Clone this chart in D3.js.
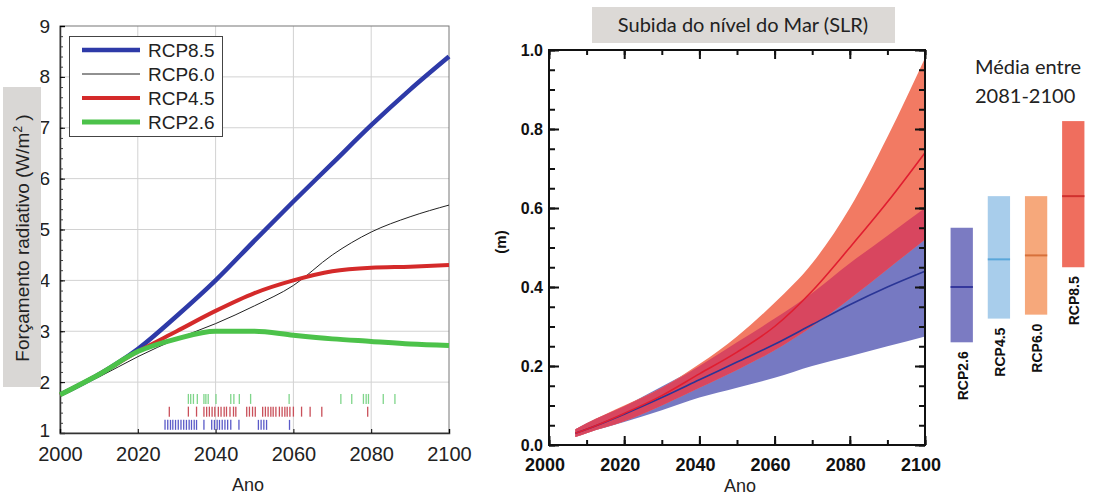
<!DOCTYPE html>
<html>
<head>
<meta charset="utf-8">
<script src="https://cdn.jsdelivr.net/npm/d3@7"></script>
<style>
  body { margin: 0; background: #fff; }
  svg { display: block; }
</style>
</head>
<body>
<div id="chart"></div>
<script>
// ---- data ----
// left panel: radiative forcing (W/m2)
const years = [2000, 2010, 2020, 2030, 2040, 2050, 2060, 2070, 2080, 2090, 2100];
const rcp85 = [1.75, 2.15, 2.65, 3.3, 4.0, 4.78, 5.55, 6.3, 7.05, 7.75, 8.4];
const rcp60 = [1.75, 2.1, 2.5, 2.85, 3.15, 3.5, 3.9, 4.5, 4.95, 5.25, 5.48];
const rcp45 = [1.75, 2.15, 2.6, 3.0, 3.4, 3.75, 4.0, 4.18, 4.25, 4.27, 4.3];
const rcp26 = [1.75, 2.15, 2.6, 2.85, 3.0, 3.0, 2.92, 2.85, 2.8, 2.75, 2.72];
const forcingTicks = [1, 2, 3, 4, 5, 6, 7, 8, 9];
const yearTicks = [2000, 2020, 2040, 2060, 2080, 2100];

// rug marks (years) under the curves
const rug26 = [2033, 2033.6, 2034.3, 2035.3, 2037, 2037.5, 2038.1, 2040.1, 2043.9, 2044.7, 2046.1,
  2049, 2058.9, 2072.2, 2075, 2078, 2078.7, 2079.3, 2083.1, 2086.1];
const rug45 = [2028.1, 2033, 2035.1, 2037, 2037.7, 2038.4, 2039.1, 2039.8, 2040.7, 2041.4, 2042.2,
  2042.8, 2043.7, 2044.6, 2045.2, 2048, 2048.7, 2049.5, 2050.2, 2052.1, 2052.8, 2053.5, 2054.2,
  2054.8, 2055.5, 2056.4, 2057.1, 2057.8, 2058.4, 2059.1, 2060, 2062.1, 2064.3, 2067.3, 2079.1];
const rug85 = [2027, 2027.7, 2028.4, 2029, 2029.7, 2030.4, 2031.1, 2031.8, 2032.5, 2033.2, 2033.8,
  2034.5, 2035.1, 2037, 2039, 2039.7, 2040.4, 2041, 2041.7, 2042.4, 2043.1, 2043.9, 2046,
  2051, 2051.7, 2052.4, 2053.1, 2059];

// right panel: sea level rise (m)
const slrYears = [2007, 2010, 2020, 2030, 2040, 2050, 2060, 2070, 2080, 2090, 2100];
const slr85Mid = [0.03, 0.04, 0.08, 0.125, 0.18, 0.235, 0.3, 0.39, 0.5, 0.615, 0.74];
const slr85Hi  = [0.04, 0.055, 0.1, 0.145, 0.205, 0.275, 0.36, 0.46, 0.6, 0.78, 0.98];
const slr85Lo  = [0.02, 0.03, 0.06, 0.1, 0.145, 0.19, 0.24, 0.3, 0.37, 0.445, 0.52];
const slr26Mid = [0.03, 0.04, 0.078, 0.12, 0.165, 0.21, 0.255, 0.305, 0.355, 0.4, 0.44];
const slr26Hi  = [0.04, 0.055, 0.098, 0.148, 0.2, 0.26, 0.32, 0.385, 0.46, 0.53, 0.6];
const slr26Lo  = [0.02, 0.03, 0.058, 0.088, 0.12, 0.145, 0.17, 0.2, 0.225, 0.25, 0.275];

// 2081-2100 means with ranges
const barNames = ['RCP2.6', 'RCP4.5', 'RCP6.0', 'RCP8.5'];
const barLow   = [0.26, 0.32, 0.33, 0.45];
const barMean  = [0.40, 0.47, 0.48, 0.63];
const barHigh  = [0.55, 0.63, 0.63, 0.82];

// ---- drawing ----
const width = 1097, height = 497;
const svg = d3.select('#chart').append('svg')
  .attr('width', width)
  .attr('height', height);

const arial = 'Liberation Sans, Arial, sans-serif';
const calibri = 'Lato, Open Sans, sans-serif';

// ===== left panel =====
const x1 = d3.scaleLinear().domain([2000, 2100]).range([60, 449]);
const y1 = d3.scaleLinear().domain([1, 9]).range([433, 26]);
const left = svg.append('g');

// grid
left.append('g').selectAll('line')
  .data([2020, 2040, 2060, 2080]).join('line')
  .attr('x1', d => x1(d)).attr('x2', d => x1(d))
  .attr('y1', y1(1)).attr('y2', y1(9))
  .attr('stroke', '#d2d2d2');
left.append('g').selectAll('line')
  .data(forcingTicks.slice(1, -1)).join('line')
  .attr('x1', x1(2000)).attr('x2', x1(2100))
  .attr('y1', d => y1(d)).attr('y2', d => y1(d))
  .attr('stroke', '#d2d2d2');

// frame top/right
left.append('rect')
  .attr('x', x1(2000)).attr('y', y1(9))
  .attr('width', x1(2100) - x1(2000)).attr('height', y1(1) - y1(9))
  .attr('fill', 'none').attr('stroke', '#777');

// axes
const ly = left.append('g').attr('transform', `translate(${x1(2000)},0)`)
  .call(d3.axisLeft(y1).tickValues(d3.range(1, 9.01, 0.2)).tickSize(-3).tickFormat(''));
ly.select('.domain').remove();
ly.selectAll('line').attr('stroke', '#444');
const lyMajor = left.append('g').attr('transform', `translate(${x1(2000)},0)`)
  .call(d3.axisLeft(y1).tickValues(forcingTicks).tickSize(-5).tickPadding(10).tickFormat(d3.format('d')));
lyMajor.select('.domain').attr('stroke', '#333').attr('stroke-width', 1.5);
lyMajor.selectAll('text').attr('font-family', arial).attr('font-size', 19).attr('fill', '#222');
lyMajor.selectAll('.tick').filter(d => d === 1).select('text').attr('dy', '0.2em');

const lx = left.append('g').attr('transform', `translate(0,${y1(1)})`)
  .call(d3.axisBottom(x1).tickValues(yearTicks).tickSize(-4).tickPadding(14).tickFormat(d3.format('d')));
lx.select('.domain').attr('stroke', '#333').attr('stroke-width', 1.5);
lx.selectAll('text').attr('font-family', arial).attr('font-size', 20).attr('fill', '#222');

left.append('text')
  .attr('x', 248).attr('y', 491)
  .attr('text-anchor', 'middle')
  .attr('font-family', arial).attr('font-size', 18).attr('fill', '#222')
  .text('Ano');

// y label in grey box
left.append('rect')
  .attr('x', 3).attr('y', 87).attr('width', 38).attr('height', 300)
  .attr('fill', '#d9d7d5');
const ylab = left.append('text')
  .attr('transform', 'translate(29,238) rotate(-90)')
  .attr('text-anchor', 'middle')
  .attr('font-family', arial).attr('font-size', 19).attr('fill', '#222');
ylab.append('tspan').text('Forçamento radiativo (W/m');
ylab.append('tspan').attr('baseline-shift', 'super').attr('font-size', 12).text('2');
ylab.append('tspan').text(' )');

// rug marks
const rugs = [
  { data: rug26, y: 1.67, color: '#7fd58a' },
  { data: rug45, y: 1.42, color: '#c9505a' },
  { data: rug85, y: 1.16, color: '#5a5ac8' }
];
rugs.forEach(r => {
  left.append('g').selectAll('line')
    .data(r.data).join('line')
    .attr('x1', d => x1(d)).attr('x2', d => x1(d))
    .attr('y1', y1(r.y) - 5).attr('y2', y1(r.y) + 5)
    .attr('stroke', r.color).attr('stroke-width', 1.3);
});

// curves
const series = [
  { name: 'RCP8.5', values: rcp85, color: '#2e3aa8', w: 4.5 },
  { name: 'RCP6.0', values: rcp60, color: '#222', w: 1 },
  { name: 'RCP4.5', values: rcp45, color: '#d42a2a', w: 4 },
  { name: 'RCP2.6', values: rcp26, color: '#4cc24a', w: 5 }
];
const line1 = d3.line()
  .x((d, i) => x1(years[i]))
  .y(d => y1(d))
  .curve(d3.curveMonotoneX);
[series[1], series[0], series[2], series[3]].forEach(s => {
  left.append('path')
    .attr('d', line1(s.values))
    .attr('fill', 'none')
    .attr('stroke', s.color)
    .attr('stroke-width', s.w)
    .attr('stroke-linejoin', 'round');
});

// legend
const legend = left.append('g');
legend.append('rect')
  .attr('x', 69.5).attr('y', 36.5).attr('width', 153).attr('height', 100)
  .attr('fill', '#fff').attr('stroke', '#444');
series.forEach((s, i) => {
  const cy = 50 + i * 24;
  legend.append('line')
    .attr('x1', 82).attr('x2', 140).attr('y1', cy).attr('y2', cy)
    .attr('stroke', s.color).attr('stroke-width', s.w);
  legend.append('text')
    .attr('x', 148).attr('y', cy + 7)
    .attr('font-family', arial).attr('font-size', 19).attr('fill', '#222')
    .text(s.name);
});

// ===== right panel =====
const x2 = d3.scaleLinear().domain([2000, 2100]).range([549, 925]);
const y2 = d3.scaleLinear().domain([0, 1]).range([445, 50]);
const right = svg.append('g');

// title box
right.append('rect')
  .attr('x', 592).attr('y', 7).attr('width', 303).attr('height', 36)
  .attr('fill', '#dcd9d6');
right.append('text')
  .attr('x', 743).attr('y', 32)
  .attr('text-anchor', 'middle')
  .attr('font-family', calibri).attr('font-size', 20).attr('fill', '#222')
  .text('Subida do nível do Mar (SLR)');

// bands
const band = (lo, hi) => d3.area()
  .x((d, i) => x2(slrYears[i]))
  .y0((d, i) => y2(lo[i]))
  .y1((d, i) => y2(hi[i]))
  .curve(d3.curveMonotoneX)(slrYears);
const overlapLo = slrYears.map((d, i) => Math.max(slr85Lo[i], slr26Lo[i]));
const overlapHi = slrYears.map((d, i) => Math.max(overlapLo[i], Math.min(slr85Hi[i], slr26Hi[i])));

right.append('path').attr('d', band(slr26Lo, slr26Hi)).attr('fill', '#7679c2');
right.append('path').attr('d', band(slr85Lo, slr85Hi)).attr('fill', '#f27a63');
right.append('path').attr('d', band(overlapLo, overlapHi)).attr('fill', '#d8465f');

const line2 = d3.line()
  .x((d, i) => x2(slrYears[i]))
  .y(d => y2(d))
  .curve(d3.curveMonotoneX);
right.append('path').attr('d', line2(slr26Mid))
  .attr('fill', 'none').attr('stroke', '#2a3596').attr('stroke-width', 1.6);
right.append('path').attr('d', line2(slr85Mid))
  .attr('fill', 'none').attr('stroke', '#e01e30').attr('stroke-width', 1.6);

// axes with inward ticks on all four sides
function tickAxis(axis, transform, values, size) {
  const g = right.append('g').attr('transform', transform)
    .call(axis.tickValues(values).tickSize(size).tickFormat(''));
  g.select('.domain').remove();
  g.selectAll('line').attr('stroke', '#111').attr('stroke-width', 2);
  return g;
}
const minorY = d3.range(0, 1.001, 0.05);
const majorY = d3.range(0, 1.001, 0.2);
const minorX = d3.range(2000, 2100.1, 10);
tickAxis(d3.axisLeft(y2), `translate(${x2(2000)},0)`, minorY, -6);
tickAxis(d3.axisLeft(y2), `translate(${x2(2000)},0)`, majorY, -10);
tickAxis(d3.axisRight(y2), `translate(${x2(2100)},0)`, minorY, -6);
tickAxis(d3.axisRight(y2), `translate(${x2(2100)},0)`, majorY, -10);
tickAxis(d3.axisBottom(x2), `translate(0,${y2(0)})`, minorX, -5);
tickAxis(d3.axisBottom(x2), `translate(0,${y2(0)})`, yearTicks, -9);
tickAxis(d3.axisTop(x2), `translate(0,${y2(1)})`, minorX, -5);
tickAxis(d3.axisTop(x2), `translate(0,${y2(1)})`, yearTicks, -9);

right.append('rect')
  .attr('x', x2(2000)).attr('y', y2(1))
  .attr('width', x2(2100) - x2(2000)).attr('height', y2(0) - y2(1))
  .attr('fill', 'none').attr('stroke', '#111').attr('stroke-width', 2);

// tick labels
right.append('g').selectAll('text')
  .data(majorY).join('text')
  .attr('x', x2(2000) - 6).attr('y', d => y2(d) + 6)
  .attr('text-anchor', 'end')
  .attr('font-family', arial).attr('font-weight', 'bold').attr('font-size', 16).attr('fill', '#111')
  .text(d3.format('.1f'));
right.append('g').selectAll('text')
  .data(yearTicks).join('text')
  .attr('x', d => x2(d) - 4).attr('y', 471)
  .attr('text-anchor', 'middle')
  .attr('font-family', arial).attr('font-weight', 'bold').attr('font-size', 18).attr('fill', '#111')
  .text(d3.format('d'));
right.append('text')
  .attr('x', 740).attr('y', 492)
  .attr('text-anchor', 'middle')
  .attr('font-family', arial).attr('font-size', 18).attr('fill', '#222')
  .text('Ano');
right.append('text')
  .attr('transform', 'translate(506,242) rotate(-90)')
  .attr('text-anchor', 'middle')
  .attr('font-family', arial).attr('font-weight', 'bold').attr('font-size', 15).attr('fill', '#111')
  .text('(m)');

// mean bars 2081-2100
right.append('text')
  .attr('font-family', calibri).attr('font-size', 20).attr('fill', '#222')
  .selectAll('tspan')
  .data(['Média entre', '2081-2100']).join('tspan')
  .attr('x', 975).attr('y', (d, i) => 74 + i * 29)
  .text(d => d);

const barX = d3.scaleBand().domain(barNames).range([945, 1090]).paddingInner(0.4).paddingOuter(0.15);
const barFill = ['#7b7bc2', '#a8cdeb', '#f6a87b', '#ef6e5e'];
const barLine = ['#34379c', '#5aa7da', '#d7713b', '#d0302e'];
const bars = right.append('g').selectAll('g')
  .data(barNames).join('g');
bars.append('rect')
  .attr('x', d => barX(d)).attr('width', barX.bandwidth())
  .attr('y', (d, i) => y2(barHigh[i]))
  .attr('height', (d, i) => y2(barLow[i]) - y2(barHigh[i]))
  .attr('fill', (d, i) => barFill[i]);
bars.append('line')
  .attr('x1', d => barX(d)).attr('x2', d => barX(d) + barX.bandwidth())
  .attr('y1', (d, i) => y2(barMean[i])).attr('y2', (d, i) => y2(barMean[i]))
  .attr('stroke', (d, i) => barLine[i]).attr('stroke-width', 2);
bars.append('text')
  .attr('transform', (d, i) => `translate(${barX(d) + barX.bandwidth() / 2 + 6},${y2(barLow[i]) + 9}) rotate(-90)`)
  .attr('text-anchor', 'end')
  .attr('font-family', arial).attr('font-weight', 'bold').attr('font-size', 14).attr('fill', '#111')
  .text(d => d);
</script>
</body>
</html>
